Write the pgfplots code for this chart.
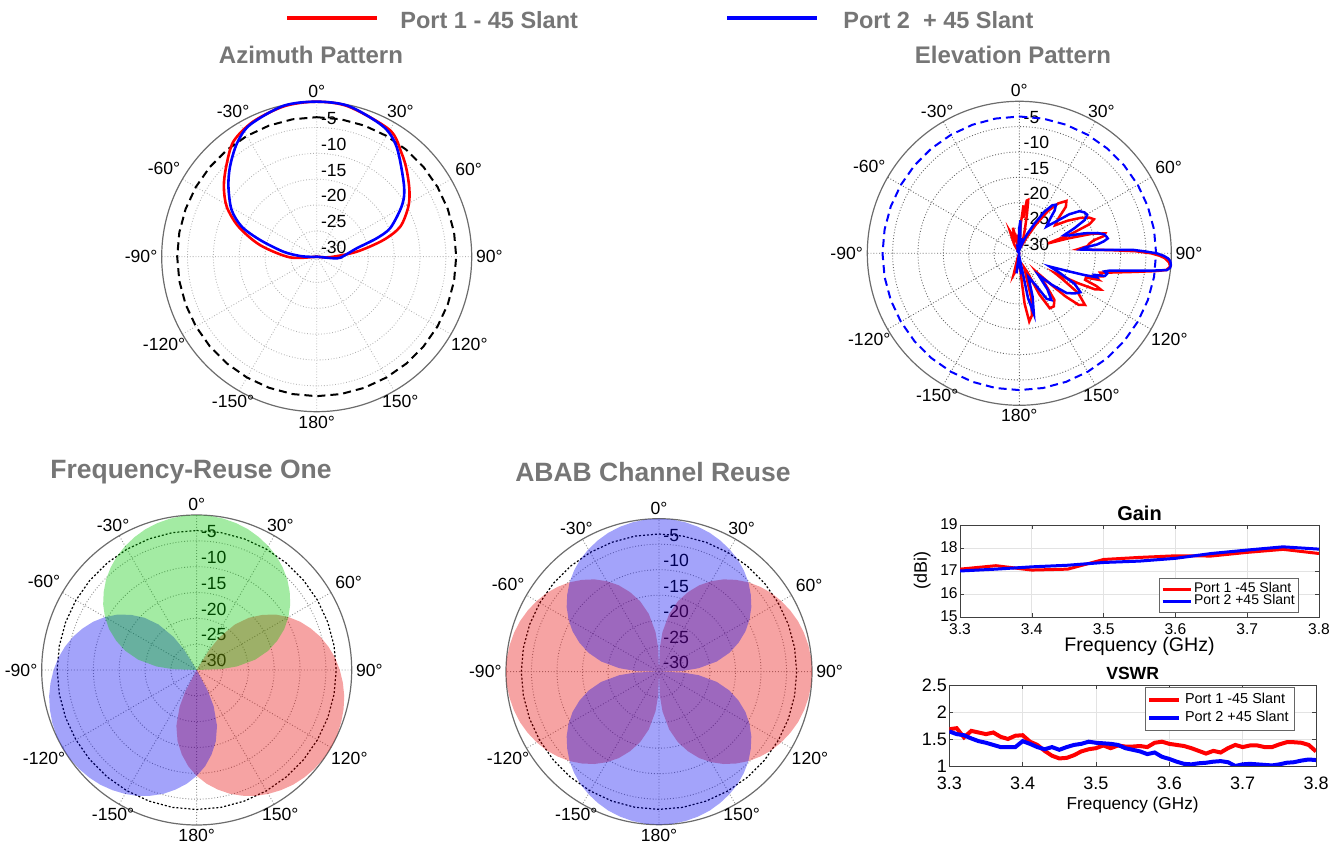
\documentclass[border=0pt]{standalone}
\usepackage{fontspec}
\setmainfont{Liberation Sans}
\usepackage{pgfplots}
\usepackage{pgfplotstable}
\pgfplotsset{compat=1.18}
\usepgfplotslibrary{polar}

\definecolor{tgray}{RGB}{118,118,118}
\definecolor{fgreen}{RGB}{0,200,0}
\definecolor{fred}{RGB}{230,0,0}
\definecolor{fblue}{RGB}{0,0,240}
\newcommand{\tickfont}{\fontsize{8.8}{10}\selectfont}

\tikzset{rl/.style={anchor=south west, inner sep=0pt, xshift=2pt, yshift=1.3pt, font=\tickfont},
         al/.style={inner sep=2pt, font=\tickfont}}

\pgfplotsset{
 mypolar/.style={
  scale only axis, anchor=center, clip=false,
  xmin=0, xmax=360, ymin=0, ymax=30,
  xtick={0,30,...,330}, xticklabels={},
  ytick={5,10,15,20,25}, yticklabels={},
  xmajorgrids, ymajorgrids,
  major grid style={densely dotted, gray!60, line width=0.45pt},
  separate axis lines,
  x axis line style={gray!85!black, line width=0.6pt},
  y axis line style={draw=none},
  tick style={draw=none},
 },
 /pgfplots/table/pol/.style={x expr=90-\thisrow{a}, y expr=\thisrow{db}+30},
}

\newcommand{\alabels}{%
 \node[al, anchor=270] at (axis cs:90,30) {0°};
 \node[al, anchor=240] at (axis cs:60,30) {30°};
 \node[al, anchor=210] at (axis cs:30,30) {60°};
 \node[al, anchor=180] at (axis cs:0,30) {90°};
 \node[al, anchor=150] at (axis cs:330,30) {120°};
 \node[al, anchor=120] at (axis cs:300,30) {150°};
 \node[al, anchor=90]  at (axis cs:270,30) {180°};
 \node[al, anchor=60]  at (axis cs:240,30) {-150°};
 \node[al, anchor=30]  at (axis cs:210,30) {-120°};
 \node[al, anchor=0]   at (axis cs:180,30) {-90°};
 \node[al, anchor=330] at (axis cs:150,30) {-60°};
 \node[al, anchor=300] at (axis cs:120,30) {-30°};
}
\newcommand{\rlabels}{%
 \node[rl] at (axis cs:90,0) {-30};
 \node[rl] at (axis cs:90,5) {-25};
 \node[rl] at (axis cs:90,10) {-20};
 \node[rl] at (axis cs:90,15) {-15};
 \node[rl] at (axis cs:90,20) {-10};
 \node[rl] at (axis cs:90,25) {-5};
}

% -3 dB ring
\pgfplotstableread{
a db
0 -3
10 -3
20 -3
30 -3
40 -3
50 -3
60 -3
70 -3
80 -3
90 -3
100 -3
110 -3
120 -3
130 -3
140 -3
150 -3
160 -3
170 -3
180 -3
190 -3
200 -3
210 -3
220 -3
230 -3
240 -3
250 -3
260 -3
270 -3
280 -3
290 -3
300 -3
310 -3
320 -3
330 -3
340 -3
350 -3
360 -3
}\ring

% sector lobe (offset angle from boresight, dB)
\pgfplotstableread{
a db
-90 -30
-88 -25.3
-85 -22.2
-80 -18.5
-75 -15.7
-70 -13.4
-65 -11.3
-60 -9.5
-55 -7.9
-50 -6.5
-45 -5.2
-40 -4.1
-35 -3.1
-30 -2.3
-25 -1.6
-20 -1.0
-15 -0.57
-10 -0.25
-5 -0.06
0 0
5 -0.06
10 -0.25
15 -0.57
20 -1.0
25 -1.6
30 -2.3
35 -3.1
40 -4.1
45 -5.2
50 -6.5
55 -7.9
60 -9.5
65 -11.3
70 -13.4
75 -15.7
80 -18.5
85 -22.2
88 -25.3
90 -30
}\lobe

% azimuth
\pgfplotstableread{
a db
-180 -30
-100 -30
-91.4 -24.8
-78.4 -18.8
-69 -13.8
-61 -10.1
-53 -7.5
-45.2 -5.3
-35.9 -2.5
-25.1 -1.1
-12 -0.2
0 0
12 -0.3
30 -1.7
39.4 -4.1
46 -5.8
54.3 -7.9
61.4 -9.8
70.2 -12.8
76 -16.7
82.9 -22.2
92 -27.4
100 -30
180 -30
}\azred
\pgfplotstableread{
a db
-180 -30
-100 -30
-92 -29
-87.7 -26.8
-81.5 -23.5
-73.6 -18.6
-68.2 -14.4
-61.2 -11.2
-51.6 -8.2
-43.9 -5.8
-35.2 -3.2
-26.9 -1.4
-12.4 -0.1
0 0
12 -0.2
27.1 -1.7
36 -3.7
48.5 -7.6
55.5 -9.5
60.8 -11.5
68.9 -14.8
73 -17.9
78.2 -22.1
88.6 -24.8
94.8 -26.1
100 -30
180 -30
}\azblue

% elevation
\pgfplotstableread{
a db
-180 -29
-172 -27
-165 -25.6
-160 -29
-120 -30
-60 -30
-30 -28
-23 -25.3
-18 -27
-14 -24.8
-10 -28.5
-5 -27
0 -27.5
3 -24
5 -20.5
6.5 -23
8 -19.5
9.5 -19.3
11 -22
13 -25
16 -27.5
20 -28
25 -26.5
30 -23.5
34 -20
38 -17.5
42 -16.1
45 -17
48 -19.5
52 -21
56 -18.5
60 -16
63 -14.5
65.5 -13.8
67.5 -15
69.5 -19
71 -24
73 -20
75 -15
77 -12.6
78.5 -13
80 -15
82 -16
84 -16.5
86 -18.4
87 -16.5
88 -12
89 -7
90 -4
91 -2.3
92 -1.2
93.5 -0.4
95 -0.1
96.5 -0.8
97.5 -3
99.3 -7.2
101.5 -11
103.5 -13.6
105.5 -13
107 -14.5
108.5 -13.5
110 -16
112 -16
113 -13.5
114 -12.4
115.5 -13.5
117 -17
119 -22
121 -20
124 -16
128.2 -13.5
131 -14.5
133 -17.5
135 -22
137.5 -25
140 -22
143 -18.5
147 -17.5
151 -17.6
154 -21
157 -26
161 -27
165 -21
168.5 -17.5
171.7 -16.4
174 -20
177 -27
180 -29
}\elred
\pgfplotstableread{
a db
-180 -28
-176 -29.5
-172 -26
-168 -29.5
-150 -30
-90 -30
-40 -29.5
-20 -29
-10 -29.5
-4 -28
0 -25
2 -23.5
3.5 -27
6 -28.5
10 -27
14 -28.5
18 -27.5
22 -26
27 -23.5
31 -20.5
34.5 -18.5
37 -18
39.5 -19
42 -21
45.5 -22.5
49 -20.5
52 -17.5
55 -15.5
58 -14.8
60.5 -14.6
63 -15.5
65.5 -18
68 -20.5
70.5 -19.5
73 -16.5
75.5 -14
77.5 -12.8
79 -12.5
80.5 -12.3
82 -13.2
83.5 -14.5
85 -17
86.5 -17.8
87.6 -14.1
88.3 -7.5
89.2 -5
90 -2.9
91 -1.5
92 -0.6
93 -0.15
94.5 0
95.5 -0.1
96.5 -0.7
97.6 -4
99 -8
100.8 -11.8
102 -12.8
103 -12.2
104.8 -12.5
106 -14.5
107.2 -14
108.5 -16.5
110 -19.5
113.5 -23.4
116 -21
119 -17.5
122.5 -15.7
126 -16.5
130 -17.8
134 -21
138.7 -24.3
142 -21
145.5 -18.8
149 -19.5
153 -23
159 -25
163 -21
166.5 -17.7
169 -21
172 -28
176 -27
180 -28
}\elblue

% gain
\pgfplotstableread{
f g
3.30 17.08
3.35 17.23
3.40 17.04
3.45 17.08
3.50 17.50
3.55 17.59
3.60 17.66
3.65 17.65
3.70 17.81
3.75 17.94
3.80 17.76
}\gainred
\pgfplotstableread{
f g
3.30 17.00
3.35 17.08
3.40 17.18
3.45 17.25
3.50 17.37
3.55 17.43
3.60 17.55
3.65 17.76
3.70 17.91
3.75 18.05
3.80 17.95
}\gainblue

% vswr
\pgfplotstableread{
f v
3.30 1.68
3.31 1.70
3.32 1.53
3.33 1.65
3.34 1.62
3.35 1.59
3.36 1.62
3.37 1.54
3.38 1.50
3.39 1.56
3.40 1.57
3.41 1.45
3.42 1.39
3.43 1.28
3.44 1.19
3.45 1.14
3.46 1.15
3.47 1.20
3.48 1.27
3.49 1.31
3.50 1.33
3.51 1.38
3.52 1.33
3.53 1.38
3.54 1.36
3.55 1.36
3.56 1.37
3.57 1.35
3.58 1.43
3.59 1.45
3.60 1.41
3.61 1.39
3.62 1.37
3.63 1.33
3.64 1.28
3.65 1.23
3.66 1.28
3.67 1.25
3.68 1.33
3.69 1.39
3.70 1.35
3.71 1.38
3.72 1.38
3.73 1.35
3.74 1.35
3.75 1.40
3.76 1.44
3.77 1.44
3.78 1.43
3.79 1.39
3.80 1.27
}\vswrred
\pgfplotstableread{
f v
3.30 1.64
3.31 1.59
3.32 1.57
3.33 1.51
3.34 1.46
3.35 1.43
3.36 1.39
3.37 1.35
3.38 1.35
3.39 1.35
3.40 1.46
3.41 1.41
3.42 1.35
3.43 1.31
3.44 1.35
3.45 1.30
3.46 1.35
3.47 1.39
3.48 1.41
3.49 1.45
3.50 1.43
3.51 1.42
3.52 1.41
3.53 1.39
3.54 1.33
3.55 1.30
3.56 1.27
3.57 1.22
3.58 1.25
3.59 1.17
3.60 1.13
3.61 1.08
3.62 1.04
3.63 1.03
3.64 1.05
3.65 1.06
3.66 1.08
3.67 1.09
3.68 1.07
3.69 1.00
3.70 1.03
3.71 1.04
3.72 1.03
3.73 1.02
3.74 1.01
3.75 1.03
3.76 1.06
3.77 1.07
3.78 1.10
3.79 1.12
3.80 1.11
}\vswrblue

\begin{document}
\begin{tikzpicture}
\path[use as bounding box] (0,0) rectangle (672pt,424.5pt);

% top legend
\draw[red, line width=2pt] (143.5pt,415.3pt) -- (188.5pt,415.3pt);
\node[anchor=base west, inner sep=0pt, text=tgray, font=\bfseries\fontsize{11.75}{13}\selectfont] at (200pt,410.3pt) {Port 1 - 45 Slant};
\draw[blue, line width=2pt] (363.5pt,415.3pt) -- (408.5pt,415.3pt);
\node[anchor=base west, inner sep=0pt, text=tgray, font=\bfseries\fontsize{11.75}{13}\selectfont] at (421.5pt,410.3pt) {Port 2\ \ + 45 Slant};

% titles
\node[anchor=base, inner sep=0pt, text=tgray, font=\bfseries\fontsize{12}{14}\selectfont] at (155.5pt,392.8pt) {Azimuth Pattern};
\node[anchor=base, inner sep=0pt, text=tgray, font=\bfseries\fontsize{12}{14}\selectfont] at (506.5pt,392.8pt) {Elevation Pattern};
\node[anchor=base, inner sep=0pt, text=tgray, font=\bfseries\fontsize{13.25}{15}\selectfont] at (95.5pt,185.4pt) {Frequency-Reuse One};
\node[anchor=base, inner sep=0pt, text=tgray, font=\bfseries\fontsize{13.25}{15}\selectfont] at (326.5pt,183.7pt) {ABAB Channel Reuse};

% Azimuth
\begin{polaraxis}[mypolar, at={(158.35pt,296.15pt)}, width=155pt, height=155pt]
\alabels
\rlabels
\addplot[black, line width=1pt, dash pattern=on 4pt off 2.5pt] table[pol] {\ring};
\addplot[red, line width=1.3pt, smooth, tension=0.5] table[pol] {\azred};
\addplot[blue, line width=1.3pt, smooth, tension=0.5] table[pol] {\azblue};
\end{polaraxis}

% Elevation
\begin{polaraxis}[mypolar, at={(509.65pt,297.85pt)}, width=152pt, height=152pt,
  major grid style={densely dotted, black!60, line width=0.45pt}]
\alabels
\rlabels
\addplot[blue, line width=1pt, dash pattern=on 4pt off 2.5pt] table[pol] {\ring};
\addplot[red, line width=1.25pt] table[pol] {\elred};
\addplot[blue, line width=1.25pt] table[pol] {\elblue};
\end{polaraxis}

% Frequency reuse one
\begin{polaraxis}[mypolar, at={(98.35pt,89.5pt)}, width=155pt, height=155pt,
  major grid style={densely dotted, black!45, line width=0.45pt}]
\alabels
\rlabels
\addplot[black, line width=0.6pt, dash pattern=on 1pt off 1pt] table[pol] {\ring};
\addplot[draw=none, fill=fred, fill opacity=0.36] table[x expr=90-(\thisrow{a}+120), y expr=\thisrow{db}+30] {\lobe};
\addplot[draw=none, fill=fblue, fill opacity=0.36] table[x expr=90-(\thisrow{a}-120), y expr=\thisrow{db}+30] {\lobe};
\addplot[draw=none, fill=fgreen, fill opacity=0.36] table[pol] {\lobe};
\end{polaraxis}

% ABAB
\begin{polaraxis}[mypolar, at={(329.5pt,88.65pt)}, width=153pt, height=153pt,
  major grid style={densely dotted, black!45, line width=0.45pt}]
\alabels
\rlabels
\addplot[black, line width=0.6pt, dash pattern=on 1pt off 1pt] table[pol] {\ring};
\addplot[draw=none, fill=fred, fill opacity=0.36] table[x expr=90-(\thisrow{a}+90), y expr=\thisrow{db}+30] {\lobe};
\addplot[draw=none, fill=fred, fill opacity=0.36] table[x expr=90-(\thisrow{a}-90), y expr=\thisrow{db}+30] {\lobe};
\addplot[draw=none, fill=fblue, fill opacity=0.36] table[pol] {\lobe};
\addplot[draw=none, fill=fblue, fill opacity=0.36] table[x expr=90-(\thisrow{a}+180), y expr=\thisrow{db}+30] {\lobe};
\end{polaraxis}

% Gain
\begin{axis}[at={(480pt,116pt)}, anchor=south west, scale only axis, width=179.5pt, height=46pt,
  xmin=3.3, xmax=3.8, ymin=15, ymax=19,
  xtick={3.3,3.4,3.5,3.6,3.7,3.8}, ytick={15,16,17,18,19},
  /pgf/number format/assume math mode=true,
  ticklabel style={font=\fontsize{7.8}{9}\selectfont, inner sep=1pt},
  xticklabel style={yshift=-2pt, /pgf/number format/.cd, fixed, fixed zerofill, precision=1},
  yticklabel style={yshift=0.6pt},
  grid=major, grid style={gray!22, line width=0.4pt},
  axis line style={black!75, line width=0.4pt},
  tick align=inside, major tick length=2pt, tick style={black!75},
  every axis title shift=0pt,
  title={Gain}, title style={font=\bfseries\fontsize{10}{12}\selectfont, at={(axis description cs:0.5,1)}, anchor=center, yshift=6pt},
  xlabel={Frequency (GHz)}, xlabel style={font=\fontsize{9.8}{11}\selectfont, at={(axis description cs:0.5,0)}, anchor=center, yshift=-14.5pt},
  ylabel={(dBi)}, ylabel style={font=\fontsize{9}{11}\selectfont, at={(axis description cs:-0.105,0.5)}, anchor=center},
  legend style={at={(0.945,0.05)}, anchor=south east, font=\fontsize{7}{7.5}\selectfont, inner sep=1pt, row sep=-2.5pt, draw=black!60, nodes={inner sep=1pt}},
  legend cell align=left,
  legend image code/.code={\draw[#1, line width=1.5pt] (0pt,0pt) -- (14pt,0pt);},
]
\addplot[red, line width=1.5pt] table[x=f, y=g] {\gainred};
\addlegendentry{Port 1 -45 Slant}
\addplot[blue, line width=1.5pt] table[x=f, y=g] {\gainblue};
\addlegendentry{Port 2 +45 Slant}
\end{axis}

% VSWR
\begin{axis}[at={(474.65pt,41.5pt)}, anchor=south west, scale only axis, width=183.35pt, height=40.5pt,
  xmin=3.3, xmax=3.8, ymin=1, ymax=2.5,
  xtick={3.3,3.4,3.5,3.6,3.7,3.8}, ytick={1,1.5,2,2.5},
  /pgf/number format/assume math mode=true,
  ticklabel style={font=\fontsize{9}{10}\selectfont, inner sep=1pt},
  xticklabel style={yshift=-4.5pt, /pgf/number format/.cd, fixed, fixed zerofill, precision=1},
  grid=major, grid style={gray!22, line width=0.4pt},
  axis line style={black!75, line width=0.4pt},
  tick align=inside, major tick length=2pt, tick style={black!75},
  every axis title shift=0pt,
  title={VSWR}, title style={font=\bfseries\fontsize{8.8}{10}\selectfont, at={(axis description cs:0.5,1)}, anchor=center, yshift=6pt},
  xlabel={Frequency (GHz)}, xlabel style={font=\fontsize{8.6}{10}\selectfont, at={(axis description cs:0.5,0)}, anchor=center, yshift=-19.5pt},
  legend style={at={(0.943,0.975)}, anchor=north east, font=\fontsize{7.2}{8}\selectfont, inner sep=1pt, row sep=-2pt, draw=black!60},
  legend cell align=left,
  legend image code/.code={\draw[#1, line width=2pt] (0pt,0pt) -- (15pt,0pt);},
]
\addplot[red, line width=2pt] table[x=f, y=v] {\vswrred};
\addlegendentry{Port 1 -45 Slant}
\addplot[blue, line width=2pt] table[x=f, y=v] {\vswrblue};
\addlegendentry{Port 2 +45 Slant}
\end{axis}
\end{tikzpicture}
\end{document}
